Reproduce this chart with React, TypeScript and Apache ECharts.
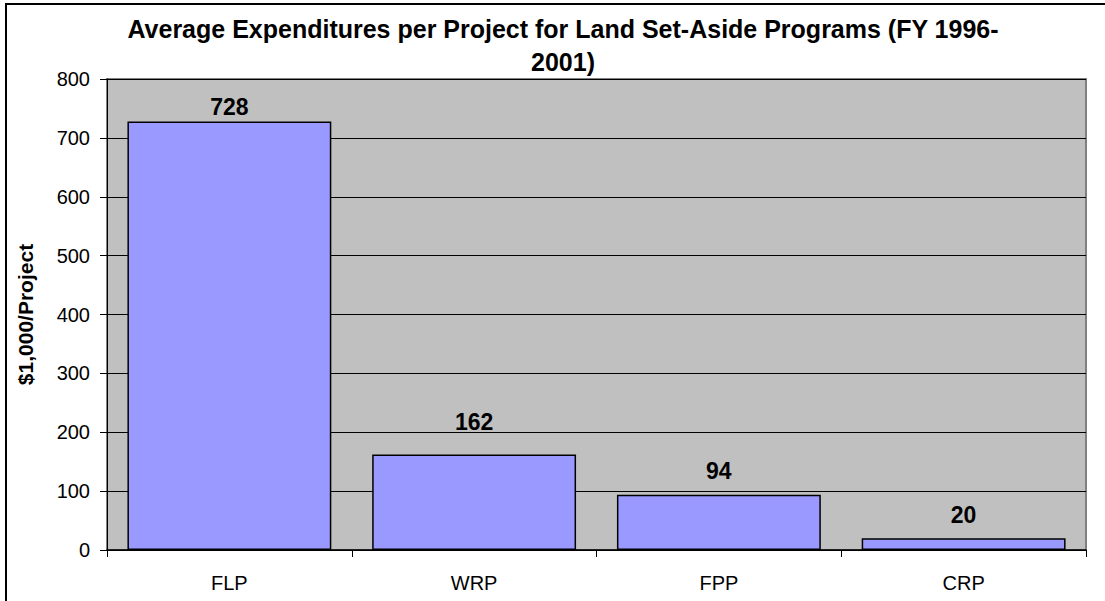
import React, { useEffect, useRef } from "react";
import * as echarts from "echarts";

const categories = ["FLP", "WRP", "FPP", "CRP"];
const values = [728, 162, 94, 20];
const labelDistances = [2.5, 21, 12.5, 11.5];
const titleText = "Average Expenditures per Project for Land Set-Aside Programs (FY 1996-\n2001)";
const yAxisName = "$1,000/Project";

const FONT = 'Arial, "Liberation Sans", Helvetica, sans-serif';

export default function App() {
  const ref = useRef<HTMLDivElement>(null);
  useEffect(() => {
    if (!ref.current) return;
    const chart = echarts.init(ref.current, undefined, { renderer: "svg" });
    chart.setOption({
      animation: false,
      backgroundColor: "#ffffff",
      textStyle: { fontFamily: FONT },
      title: {
        text: titleText,
        left: 563,
        top: 12,
        textAlign: "center",
        padding: 0,
        textStyle: {
          fontFamily: FONT,
          fontSize: 25,
          fontWeight: "bold",
          color: "#000",
          lineHeight: 33,
          align: "center",
        },
      },
      graphic: [
        {
          type: "rect",
          shape: { x: 6, y: 4, width: 1200, height: 700 },
          style: { fill: "none", stroke: "#000", lineWidth: 2 },
          silent: true,
          z: 100,
        },
      ],
      grid: {
        left: 107,
        right: 19,
        top: 79,
        bottom: 51,
        show: true,
        backgroundColor: "#C0C0C0",
        borderColor: "#808080",
        borderWidth: 2,
      },
      xAxis: {
        type: "category",
        data: categories,
        axisLine: { show: true, lineStyle: { color: "#000", width: 1.5 } },
        axisTick: { show: true, length: 7, interval: 0, lineStyle: { color: "#000" } },
        axisLabel: { fontFamily: FONT, fontSize: 20, color: "#000", margin: 23 },
        splitLine: { show: false },
      },
      yAxis: {
        type: "value",
        min: 0,
        max: 800,
        interval: 100,
        name: yAxisName,
        nameLocation: "middle",
        nameRotate: 90,
        nameGap: 71,
        nameTextStyle: { fontFamily: FONT, fontSize: 21, fontWeight: "bold", color: "#000" },
        axisLine: { show: true, lineStyle: { color: "#000", width: 1 } },
        axisTick: { show: true, length: 7, lineStyle: { color: "#000" } },
        axisLabel: { fontFamily: FONT, fontSize: 20, color: "#000", margin: 17 },
        splitLine: { show: true, lineStyle: { color: "#000", width: 1 } },
      },
      series: [
        {
          type: "bar",
          data: values.map((v, i) => ({
            value: v,
            label: { distance: labelDistances[i] },
          })),
          barCategoryGap: "16.7%",
          itemStyle: { color: "#9999FF", borderColor: "#000", borderWidth: 1.5 },
          label: {
            show: true,
            position: "top",
            fontFamily: FONT,
            fontSize: 23,
            fontWeight: "bold",
            color: "#000",
            lineHeight: 23,
          },
        },
      ],
    });
    return () => chart.dispose();
  }, []);
  return (
    <div
      ref={ref}
      style={{ position: "absolute", left: 0, top: 0, width: 1105, height: 601 }}
    />
  );
}
